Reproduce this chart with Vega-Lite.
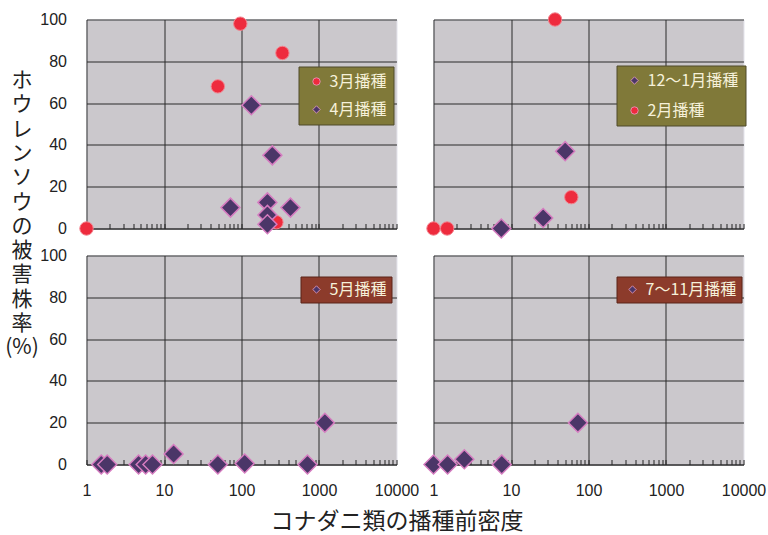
{
  "$schema": "https://vega.github.io/schema/vega-lite/v6.json",
  "background": "white",
  "padding": {"left": 3.5, "top": 9.5, "right": 2, "bottom": 0},
  "columns": 2,
  "spacing": {"row": 27, "column": 37},
  "bounds": "flush",
  "resolve": {
    "scale": {"color": "independent", "shape": "independent", "x": "independent", "y": "independent"},
    "legend": {"color": "independent", "shape": "independent"},
    "axis": {"x": "independent", "y": "independent"}
  },
  "config": {
    "view": {"fill": "#cbc8cc", "stroke": "#e4e4ec", "strokeWidth": 1},
    "legend": {
      "orient": "none",
      "title": null,
      "padding": 7,
      "strokeColor": "#4e4a2a",
      "labelFont": "Noto Sans CJK JP",
      "labelFontSize": 16,
      "labelColor": "#f6f1da",
      "symbolSize": 55,
      "symbolOffset": 3,
      "labelOffset": 5,
      "rowPadding": 12,
      "symbolStrokeWidth": 0.8,
      "symbolStrokeColor": "#e8a0c8"
    }
  },
  "concat": [
    {
      "width": 310, "height": 209,
      "encoding": {
        "x": {"field": "x", "type": "quantitative", "scale": {"type": "log", "domain": [1, 10000], "nice": false},
          "axis": {"values": [1,2,3,4,5,6,7,8,9,10,20,30,40,50,60,70,80,90,100,200,300,400,500,600,700,800,900,1000,2000,3000,4000,5000,6000,7000,8000,9000,10000],
            "grid": true, "gridColor": "#2a2a2a", "gridWidth": 1,
            "gridOpacity": {"condition": {"test": "indexof([1,10,100,1000], datum.value) >= 0", "value": 1}, "value": 0},
            "ticks": true, "tickSize": -5, "tickColor": "#222222", "domain": true, "domainColor": "#2a2a2a",
            "labels": false, "title": null}},
        "y": {"field": "y", "type": "quantitative", "scale": {"domain": [0, 100], "nice": false},
          "axis": {"values": [0,20,40,60,80,100], "grid": true, "gridColor": "#2a2a2a", "ticks": false, "domain": false,
            "labelFont": "Liberation Sans", "labelFontSize": 16, "labelColor": "#222222", "labelPadding": 20,
            "title": ["ホ","ウ","レ","ン","ソ","ウ","の","被","害","株","率","(%)"],
            "titleAngle": 0, "titleX": -65, "titleY": 50, "titleBaseline": "top", "titleAlign": "center",
            "titleFont": "Noto Sans CJK JP", "titleFontSize": 21, "titleFontWeight": "normal", "titleLineHeight": 24.3, "titleColor": "#222222"}},
        "color": {"field": "s", "type": "nominal", "scale": {"domain": ["3月播種", "4月播種"], "range": ["#ee2b3d", "#4b3668"]},
          "legend": {"legendX": 212, "legendY": 47, "fillColor": "#807939"}},
        "shape": {"field": "s", "type": "nominal", "scale": {"domain": ["3月播種", "4月播種"], "range": ["circle", "diamond"]}}
      },
      "layer": [
        {"data": {"values": [
          {"x": 1, "y": 0, "s": "3月播種"},
          {"x": 49.5, "y": 68, "s": "3月播種"},
          {"x": 96.5, "y": 98, "s": "3月播種"},
          {"x": 337, "y": 84, "s": "3月播種"},
          {"x": 282, "y": 3, "s": "3月播種"}
        ]},
         "mark": {"type": "point", "filled": true, "opacity": 1, "size": 180, "stroke": "#f3848f", "strokeWidth": 1}},
        {"data": {"values": [
          {"x": 134, "y": 59, "s": "4月播種"},
          {"x": 250, "y": 35, "s": "4月播種"},
          {"x": 72, "y": 10, "s": "4月播種"},
          {"x": 216, "y": 12.5, "s": "4月播種"},
          {"x": 216, "y": 6.5, "s": "4月播種"},
          {"x": 216, "y": 2, "s": "4月播種"},
          {"x": 428, "y": 10, "s": "4月播種"}
        ]},
         "mark": {"type": "point", "filled": true, "opacity": 1, "size": 360, "stroke": "#d67cc0", "strokeWidth": 1.5}}
      ]
    },
    {
      "width": 310, "height": 209,
      "encoding": {
        "x": {"field": "x", "type": "quantitative", "scale": {"type": "log", "domain": [1, 10000], "nice": false},
          "axis": {"values": [1,2,3,4,5,6,7,8,9,10,20,30,40,50,60,70,80,90,100,200,300,400,500,600,700,800,900,1000,2000,3000,4000,5000,6000,7000,8000,9000,10000],
            "grid": true, "gridColor": "#2a2a2a", "gridWidth": 1,
            "gridOpacity": {"condition": {"test": "indexof([1,10,100,1000], datum.value) >= 0", "value": 1}, "value": 0},
            "ticks": true, "tickSize": -5, "tickColor": "#222222", "domain": true, "domainColor": "#2a2a2a",
            "labels": false, "title": null}},
        "y": {"field": "y", "type": "quantitative", "scale": {"domain": [0, 100], "nice": false},
          "axis": {"values": [0,20,40,60,80,100], "grid": true, "gridColor": "#2a2a2a", "ticks": false, "domain": false,
            "labels": false, "title": null}},
        "color": {"field": "s", "type": "nominal", "scale": {"domain": ["12〜1月播種", "2月播種"], "range": ["#4b3668", "#ee2b3d"]},
          "legend": {"legendX": 183, "legendY": 46, "fillColor": "#807939", "rowPadding": 14}},
        "shape": {"field": "s", "type": "nominal", "scale": {"domain": ["12〜1月播種", "2月播種"], "range": ["diamond", "circle"]}}
      },
      "layer": [
        {"data": {"values": [
          {"x": 1, "y": 0, "s": "2月播種"},
          {"x": 1.5, "y": 0, "s": "2月播種"},
          {"x": 37, "y": 100, "s": "2月播種"},
          {"x": 60, "y": 15, "s": "2月播種"}
        ]},
         "mark": {"type": "point", "filled": true, "opacity": 1, "size": 180, "stroke": "#f3848f", "strokeWidth": 1}},
        {"data": {"values": [
          {"x": 7.5, "y": 0, "s": "12〜1月播種"},
          {"x": 26, "y": 5, "s": "12〜1月播種"},
          {"x": 50, "y": 37, "s": "12〜1月播種"}
        ]},
         "mark": {"type": "point", "filled": true, "opacity": 1, "size": 360, "stroke": "#d67cc0", "strokeWidth": 1.5}}
      ]
    },
    {
      "width": 310, "height": 209,
      "data": {"values": [
        {"x": 1.55, "y": 0, "s": "5月播種"},
        {"x": 1.85, "y": 0, "s": "5月播種"},
        {"x": 4.7, "y": 0, "s": "5月播種"},
        {"x": 5.8, "y": 0, "s": "5月播種"},
        {"x": 7.1, "y": 0, "s": "5月播種"},
        {"x": 13.3, "y": 5, "s": "5月播種"},
        {"x": 49.5, "y": 0, "s": "5月播種"},
        {"x": 110, "y": 0.5, "s": "5月播種"},
        {"x": 710, "y": 0, "s": "5月播種"},
        {"x": 1190, "y": 20, "s": "5月播種"}
      ]},
      "mark": {"type": "point", "filled": true, "opacity": 1, "size": 360, "stroke": "#d67cc0", "strokeWidth": 1.5},
      "encoding": {
        "x": {"field": "x", "type": "quantitative", "scale": {"type": "log", "domain": [1, 10000], "nice": false},
          "axis": {"values": [1,2,3,4,5,6,7,8,9,10,20,30,40,50,60,70,80,90,100,200,300,400,500,600,700,800,900,1000,2000,3000,4000,5000,6000,7000,8000,9000,10000],
            "grid": true, "gridColor": "#2a2a2a", "gridWidth": 1,
            "gridOpacity": {"condition": {"test": "indexof([1,10,100,1000], datum.value) >= 0", "value": 1}, "value": 0},
            "ticks": true, "tickSize": -5, "tickColor": "#222222", "domain": true, "domainColor": "#2a2a2a",
            "labelExpr": "indexof([1,10,100,1000,10000], datum.value) >= 0 ? format(datum.value, 'd') : ''",
            "labelFont": "Liberation Sans", "labelFontSize": 16, "labelColor": "#222222", "labelPadding": 23,
            "labelFlush": false, "labelOverlap": false, "labelBound": false,
            "title": "コナダニ類の播種前密度", "titleX": 310, "titleY": 57, "titleBaseline": "middle", "titleAlign": "center",
            "titleFont": "Noto Sans CJK JP", "titleFontSize": 23, "titleFontWeight": "normal", "titleColor": "#222222"}},
        "y": {"field": "y", "type": "quantitative", "scale": {"domain": [0, 100], "nice": false},
          "axis": {"values": [0,20,40,60,80,100], "grid": true, "gridColor": "#2a2a2a", "ticks": false, "domain": false,
            "labelFont": "Liberation Sans", "labelFontSize": 16, "labelColor": "#222222", "labelPadding": 20, "title": null}},
        "color": {"field": "s", "type": "nominal", "scale": {"domain": ["5月播種"], "range": ["#4b3668"]},
          "legend": {"legendX": 214, "legendY": 21, "fillColor": "#8c3b2b", "padding": 5, "strokeColor": "#5a2418"}},
        "shape": {"field": "s", "type": "nominal", "scale": {"domain": ["5月播種"], "range": ["diamond"]}}
      }
    },
    {
      "width": 310, "height": 209,
      "data": {"values": [
        {"x": 1, "y": 0, "s": "7〜11月播種"},
        {"x": 1.52, "y": 0, "s": "7〜11月播種"},
        {"x": 2.5, "y": 2.5, "s": "7〜11月播種"},
        {"x": 7.6, "y": 0, "s": "7〜11月播種"},
        {"x": 73, "y": 20, "s": "7〜11月播種"}
      ]},
      "mark": {"type": "point", "filled": true, "opacity": 1, "size": 360, "stroke": "#d67cc0", "strokeWidth": 1.5},
      "encoding": {
        "x": {"field": "x", "type": "quantitative", "scale": {"type": "log", "domain": [1, 10000], "nice": false},
          "axis": {"values": [1,2,3,4,5,6,7,8,9,10,20,30,40,50,60,70,80,90,100,200,300,400,500,600,700,800,900,1000,2000,3000,4000,5000,6000,7000,8000,9000,10000],
            "grid": true, "gridColor": "#2a2a2a", "gridWidth": 1,
            "gridOpacity": {"condition": {"test": "indexof([1,10,100,1000], datum.value) >= 0", "value": 1}, "value": 0},
            "ticks": true, "tickSize": -5, "tickColor": "#222222", "domain": true, "domainColor": "#2a2a2a",
            "labelExpr": "indexof([1,10,100,1000,10000], datum.value) >= 0 ? format(datum.value, 'd') : ''",
            "labelFont": "Liberation Sans", "labelFontSize": 16, "labelColor": "#222222", "labelPadding": 23,
            "labelFlush": false, "labelOverlap": false, "labelBound": false, "title": null}},
        "y": {"field": "y", "type": "quantitative", "scale": {"domain": [0, 100], "nice": false},
          "axis": {"values": [0,20,40,60,80,100], "grid": true, "gridColor": "#2a2a2a", "ticks": false, "domain": false,
            "labels": false, "title": null}},
        "color": {"field": "s", "type": "nominal", "scale": {"domain": ["7〜11月播種"], "range": ["#4b3668"]},
          "legend": {"legendX": 183, "legendY": 21, "fillColor": "#8c3b2b", "padding": 5, "strokeColor": "#5a2418"}},
        "shape": {"field": "s", "type": "nominal", "scale": {"domain": ["7〜11月播種"], "range": ["diamond"]}}
      }
    }
  ]
}
